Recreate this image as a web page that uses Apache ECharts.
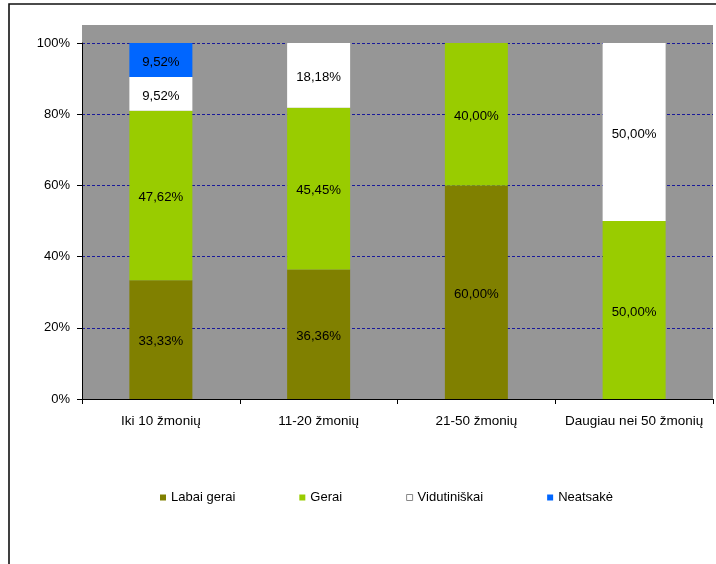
<!DOCTYPE html>
<html>
<head>
<meta charset="utf-8">
<script src="https://cdn.jsdelivr.net/npm/echarts@6/dist/echarts.min.js"></script>
<style>
  html, body { margin: 0; padding: 0; background: #fff; }
  #chart { width: 716px; height: 564px; }
</style>
</head>
<body>
<div id="chart"></div>
<script>
// Company size groups
const categories = ['Iki 10 žmonių', '11-20 žmonių', '21-50 žmonių', 'Daugiau nei 50 žmonių'];

// Answer shares per group, in percent
const labaiGerai   = [33.33, 36.36, 60.00, 0];
const gerai        = [47.62, 45.45, 40.00, 50.00];
const vidutiniskai = [9.52, 18.18, 0, 50.00];
const neatsake     = [9.52, 0, 0, 0];

const yTicks = [0, 20, 40, 60, 80, 100];

// Plot area layout (px)
const PLOT_LEFT = 82, PLOT_RIGHT = 713, PLOT_TOP = 43, PLOT_BOTTOM = 399, PANEL_TOP = 25;
const FONT = 'Arial, "Liberation Sans", sans-serif';

const fmt = v => v.toFixed(2).replace('.', ',') + '%';

function makeSeries(name, data, color) {
  return {
    name: name,
    type: 'bar',
    stack: 'total',
    data: data,
    barWidth: 63,
    itemStyle: { color: color },
    label: {
      show: true,
      position: 'inside',
      offset: [0, 2],
      color: '#000',
      fontFamily: FONT,
      fontSize: 13.2,
      formatter: p => (p.value ? fmt(p.value) : '')
    },
    emphasis: { disabled: true }
  };
}

const chart = echarts.init(document.getElementById('chart'), null, { renderer: 'canvas' });

chart.setOption({
  animation: false,
  backgroundColor: '#fff',
  textStyle: { fontFamily: FONT },
  graphic: {
    elements: [
      // outer chart frame
      {
        type: 'rect', z: -20, silent: true,
        shape: { x: 9, y: 4, width: 760, height: 620 },
        style: { fill: '#fff', stroke: '#111', lineWidth: 1.6 }
      },
      // grey plot panel
      {
        type: 'rect', z: -10, silent: true,
        shape: { x: PLOT_LEFT, y: PANEL_TOP, width: PLOT_RIGHT - PLOT_LEFT, height: PLOT_BOTTOM - PANEL_TOP },
        style: { fill: '#969696' }
      }
    ]
  },
  grid: {
    left: PLOT_LEFT,
    right: 716 - PLOT_RIGHT,
    top: PLOT_TOP,
    bottom: 564 - PLOT_BOTTOM,
    containLabel: false
  },
  legend: {
    data: [
      { name: 'Labai gerai', itemStyle: { color: '#808000' } },
      { name: 'Gerai', itemStyle: { color: '#99CC00' } },
      { name: 'Vidutiniškai', itemStyle: { color: '#ffffff', borderColor: '#888', borderWidth: 1 } },
      { name: 'Neatsakė', itemStyle: { color: '#0066FF' } }
    ],
    left: 155,
    top: 486,
    icon: 'rect',
    itemWidth: 6,
    itemHeight: 6,
    itemGap: 64,
    selectedMode: false,
    textStyle: { fontFamily: FONT, fontSize: 13, color: '#000' }
  },
  xAxis: {
    type: 'category',
    data: categories,
    boundaryGap: true,
    axisLine: { lineStyle: { color: '#000', width: 1 } },
    axisTick: { show: true, alignWithLabel: false, length: 5, lineStyle: { color: '#000' } },
    axisLabel: { color: '#000', fontFamily: FONT, fontSize: 13.5, margin: 15, interval: 0 },
    splitLine: { show: false }
  },
  yAxis: {
    type: 'value',
    min: yTicks[0],
    max: yTicks[yTicks.length - 1],
    interval: 20,
    axisLine: { show: true, lineStyle: { color: '#000', width: 1 } },
    axisTick: { show: true, length: 5, lineStyle: { color: '#000' } },
    axisLabel: { color: '#000', fontFamily: FONT, fontSize: 13, margin: 12, formatter: v => v + '%' },
    splitLine: { show: true, lineStyle: { color: '#1a1a9a', width: 1, type: [3, 2] } }
  },
  series: [
    makeSeries('Labai gerai', labaiGerai, '#808000'),
    makeSeries('Gerai', gerai, '#99CC00'),
    makeSeries('Vidutiniškai', vidutiniskai, '#ffffff'),
    makeSeries('Neatsakė', neatsake, '#0066FF')
  ]
});
</script>
</body>
</html>
